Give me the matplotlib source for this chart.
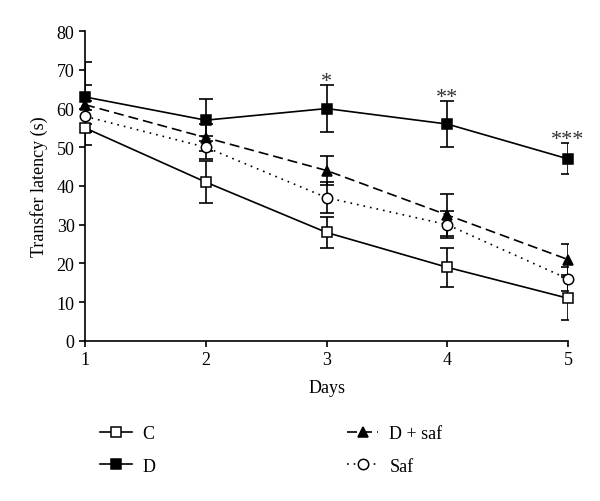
import matplotlib
matplotlib.use("Agg")
import matplotlib.pyplot as plt
from matplotlib.lines import Line2D

plt.rcParams['font.family'] = ['Liberation Serif', 'DejaVu Serif']

days = [1, 2, 3, 4, 5]
c_vals = [55, 41, 28, 19, 11]
c_err = [4.5, 5.5, 4, 5, 5.5]
d_vals = [63, 57, 60, 56, 47]
d_err = [9, 5.5, 6, 6, 4]
dsaf_vals = [61, 52.5, 44, 32.5, 21]
dsaf_err = [5, 3.5, 3.7, 5.5, 4]
saf_vals = [58, 50, 37, 30, 16]
saf_err = [4, 3, 4, 3.5, 3]
stars = ['', '', '*', '**', '***']

fig = plt.figure(figsize=(6.0, 5.02), dpi=100)
ax = fig.add_axes([0.1417, 0.319, 0.805, 0.617])

series = [
    ('C', c_vals, c_err, '-', 's', 'white'),
    ('D', d_vals, d_err, '-', 's', 'black'),
    ('D + saf', dsaf_vals, dsaf_err, (0, (6, 3)), '^', 'black'),
    ('Saf', saf_vals, saf_err, (0, (1, 3)), 'o', 'white'),
]

for name, vals, err, ls, mk, fc in series:
    ax.errorbar(days, vals, yerr=err, fmt='none', ecolor='black',
                elinewidth=1.2, capsize=5, capthick=1.2, zorder=2)
    ax.plot(days, vals, linestyle=ls, color='black', linewidth=1.2,
            marker=mk, markersize=7.5, markerfacecolor=fc,
            markeredgecolor='black', markeredgewidth=1.1,
            clip_on=False, zorder=3)

for x, v, e, s in zip(days, d_vals, d_err, stars):
    if s:
        ax.text(x, v + e - 0.2, s, ha='center', va='baseline', fontsize=16,
                color='#333333')

ax.set_xlim(1, 5)
ax.set_ylim(0, 80)
ax.set_xticks(days)
ax.set_yticks(range(0, 81, 10))
ax.tick_params(labelsize=13, direction='out', length=4, width=1.2)
for side in ['top', 'right']:
    ax.spines[side].set_visible(False)
for side in ['left', 'bottom']:
    ax.spines[side].set_linewidth(1.2)
ax.set_xlabel('Days', fontsize=13, labelpad=8)
ax.set_ylabel('Transfer latency (s)', fontsize=13, labelpad=6)

handles = []
for name, vals, err, ls, mk, fc in series:
    handles.append(Line2D([], [], linestyle=ls, color='black', linewidth=1.2,
                          marker=mk, markersize=7.5, markerfacecolor=fc,
                          markeredgecolor='black', markeredgewidth=1.1))
labels = [s[0] for s in series]
fig.legend(handles, labels, loc='center', bbox_to_anchor=(0.452, 0.1016),
           ncol=2, frameon=False, fontsize=13, handlelength=1.75,
           columnspacing=10.6, labelspacing=0.85, handletextpad=0.6)

fig.savefig('out.png', dpi=100)
